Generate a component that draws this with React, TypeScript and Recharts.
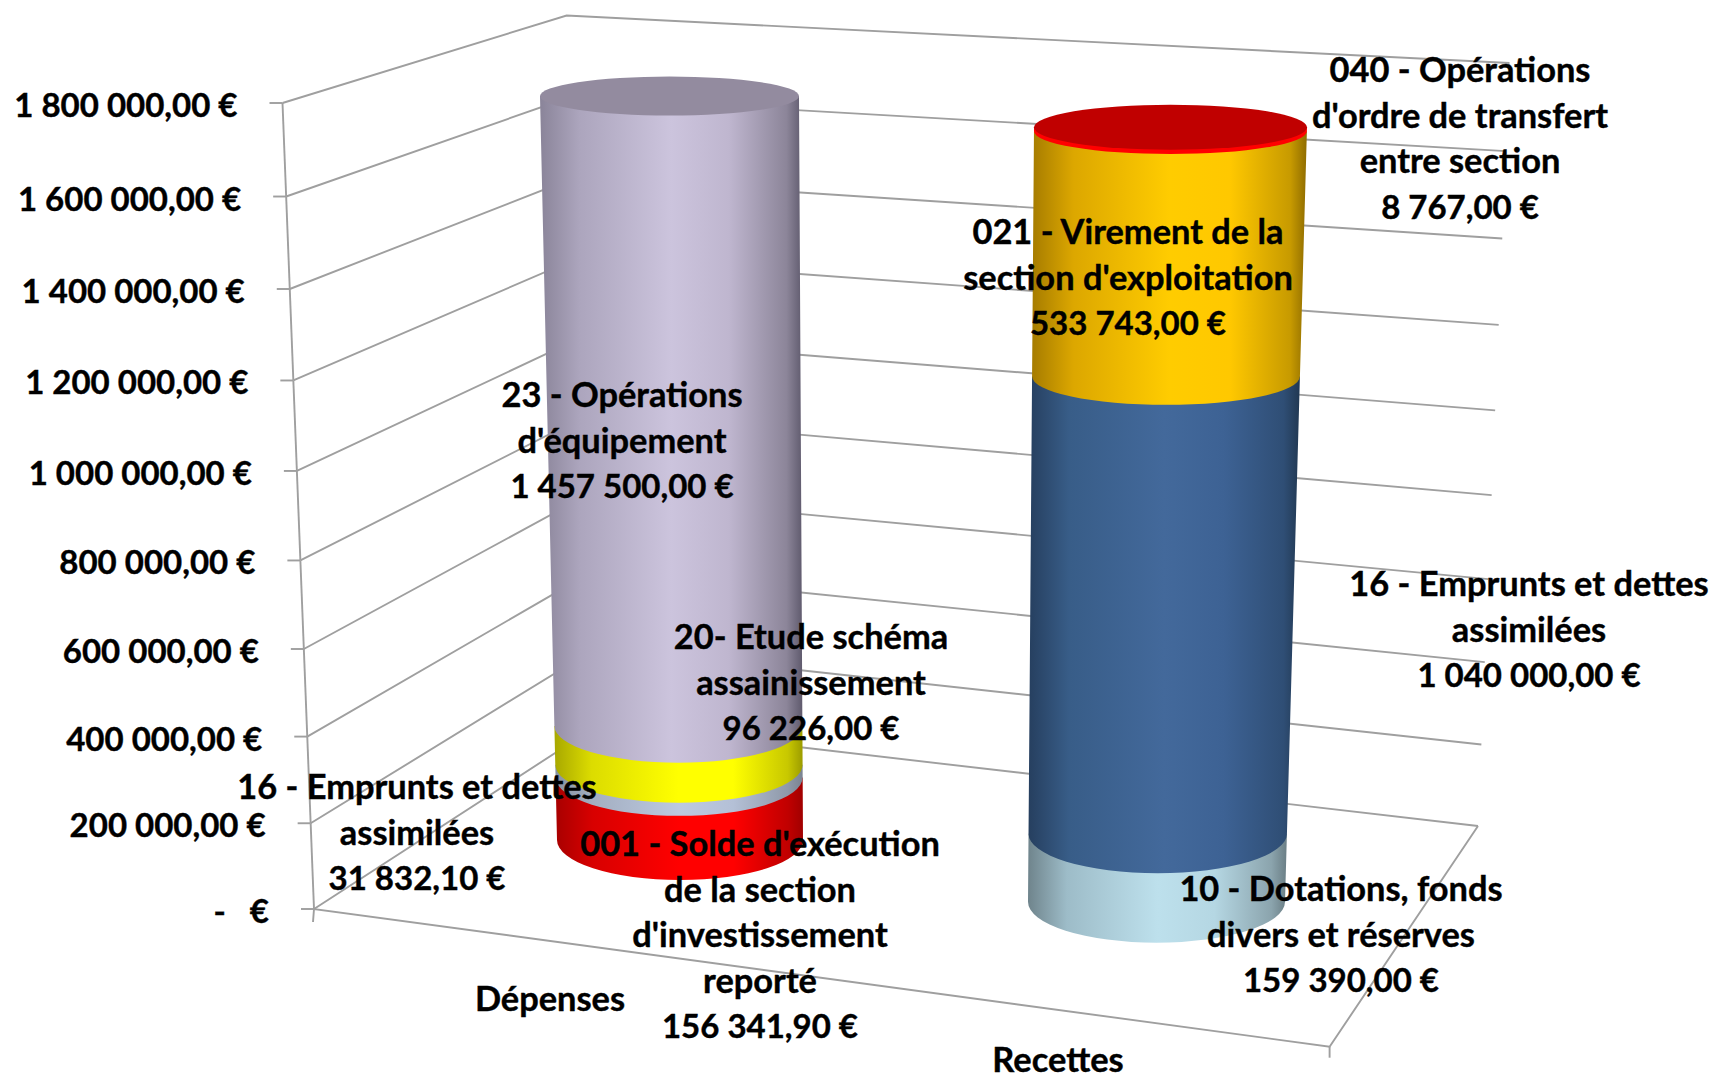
import { BarChart, Bar, XAxis, YAxis, CartesianGrid, LabelList } from 'recharts'

const categories = ['Dépenses', 'Recettes']
const yTicks = [0, 200000, 400000, 600000, 800000, 1000000, 1200000, 1400000, 1600000, 1800000]

const solde001 = [156341.9, 0]
const emprunts16Dep = [31832.1, 0]
const etude20 = [96226, 0]
const operations23 = [1457500, 0]
const dotations10 = [0, 159390]
const emprunts16Rec = [0, 1040000]
const virement021 = [0, 533743]
const ordre040 = [0, 8767]

const Y_MAX = 1800000
const FONT = 'Lato, Calibri, sans-serif'
const NAME_SIZE = 34.4
const VALUE_SIZE = 33
const LINE_STEP = 45.6
const LINE_COLOR = '#9f9f9f'
const TEXT_STYLE = { fontFamily: FONT, fontWeight: 700, fill: '#000', stroke: '#000', strokeWidth: 0.4 }

// plot box of the flat (library) scale, the 3D look is a warp on top of it
const PLOT_TOP = 100
const PLOT_H = 800
const PLOT_BOTTOM = PLOT_TOP + PLOT_H

const SERIES = [
  { key: 's001', values: solde001, cat: 0, lines: ["001 - Solde d'exécution", 'de la section', "d'investissement", 'reporté'], at: [760, 844],
    stops: ['#a80000', '#d80000', '#ff0000', '#ff0000', '#c00000', '#a00000'] },
  { key: 's16d', values: emprunts16Dep, cat: 0, lines: ['16 - Emprunts et dettes', 'assimilées'], at: [417, 787],
    stops: ['#87919f', '#a3aec0', '#bcc9e0', '#b4c0d6', '#8f99a9', '#7a8391'] },
  { key: 's20', values: etude20, cat: 0, lines: ['20- Etude schéma', 'assainissement'], at: [811, 637],
    stops: ['#a8a800', '#dcdc00', '#ffff00', '#ffff00', '#c8c800', '#9c9c00'] },
  { key: 's23', values: operations23, cat: 0, lines: ['23 - Opérations', "d'équipement"], at: [622, 395], top: '#938b9f',
    stops: ['#8a8499', '#aca5bd', '#ccc4dd', '#bfb6cf', '#8c8599', '#5f5a6d'] },
  { key: 's10', values: dotations10, cat: 1, lines: ['10 - Dotations, fonds', 'divers et réserves'], at: [1341, 889],
    stops: ['#6f848c', '#9dbcc8', '#bde0ec', '#b5d7e3', '#8ba4ad', '#6a7e85'] },
  { key: 's16r', values: emprunts16Rec, cat: 1, lines: ['16 - Emprunts et dettes', 'assimilées'], at: [1529, 584],
    stops: ['#263f5f', '#385d88', '#43699b', '#3d6294', '#2f4e75', '#213852'] },
  { key: 's021', values: virement021, cat: 1, lines: ['021 - Virement de la', "section d'exploitation"], at: [1128, 232],
    stops: ['#a67c00', '#dca700', '#ffcc00', '#ffc800', '#c79a00', '#8f6c00'] },
  { key: 's040', values: ordre040, cat: 1, lines: ['040 - Opérations', "d'ordre de transfert", 'entre section'], at: [1460, 70], top: '#c00000',
    stops: ['#ff0000', '#ff0000', '#ff0000', '#ff0000', '#ff0000', '#ff0000'] },
]

const GRAD_OFFSETS = ['0%', '15%', '50%', '72%', '94%', '100%']

const chartData = categories.map((name, i) => {
  const row: Record<string, string | number> = { name }
  SERIES.forEach(s => { row[s.key] = s.values[i] })
  return row
})

// perspective helpers
const warp = (t: number, p: number) => t / (1 + p * (1 - t))
const lerp = (a: number, b: number, k: number) => a + (b - a) * k
const toT = (y: number) => (PLOT_BOTTOM - y) / PLOT_H

type Depth = { x0: number; x1: number; y0: number; y1: number; p: number }
const at = (d: Depth, t: number) => {
  const k = warp(t, d.p)
  return { x: lerp(d.x0, d.x1, k), y: lerp(d.y0, d.y1, k) }
}

const AXIS_EDGE: Depth = { x0: 314, x1: 282.5, y0: 909, y1: 103, p: 0.05 }
const BACK_EDGE: Depth = { x0: 600, x1: 566.6, y0: 724, y1: 15.5, p: 0.04 }
const RIGHT_EDGE: Depth = { x0: 1478, x1: 1509.5, y0: 826, y1: 63, p: 0.045 }
const FRONT_CORNER = { x: 1329.6, y: 1046.7 }

const COLUMNS = [
  { y0: 880, y1: 88, p: 0.08, frontTop: 115.5, frontBot: 880, rx: [129.5, 123], ry: [19.5, 40], dx: [-0.5, 10] },
  { y0: 942.7, y1: 122, p: 0.05, frontTop: 150, frontBot: 942.7, rx: [136.5, 128.5], ry: [22.5, 41], dx: [0.5, -13.5] },
]

const ring = (col: number, t: number, cx: number) => {
  const c = COLUMNS[col]
  const front = lerp(c.y0, c.y1, warp(t, c.p))
  const k = (front - c.frontTop) / (c.frontBot - c.frontTop)
  const rx = lerp(c.rx[0], c.rx[1], k)
  const ry = lerp(c.ry[0], c.ry[1], k)
  const mid = cx + lerp(c.dx[0], c.dx[1], k)
  return { l: mid - rx, r: mid + rx, mid, rx, ry, y: front - ry }
}

const euro = (v: number) => {
  const [a, b] = v.toFixed(2).split('.')
  return `${a.replace(/\B(?=(\d{3})+$)/g, ' ')},${b} €`
}

const GridLine = (props: any) => {
  const t = toT(props.y1)
  const a = at(AXIS_EDGE, t)
  const b = at(BACK_EDGE, t)
  const c = at(RIGHT_EDGE, t)
  const isZero = t < 0.001
  const prev = at(AXIS_EDGE, Math.max(0, t - 200000 / Y_MAX))
  const common = { fill: 'none', stroke: LINE_COLOR, strokeWidth: 1.9 }
  return (
    <g key={props.key}>
      <polyline {...common} points={`${a.x},${a.y} ${b.x},${b.y} ${c.x},${c.y}`} />
      <line {...common} x1={a.x - 13} y1={a.y} x2={a.x} y2={a.y} />
      {!isZero && <line {...common} x1={prev.x} y1={prev.y} x2={a.x} y2={a.y} />}
      {isZero && (
        <polyline {...common} points={`${a.x - 1},${a.y + 13} ${a.x},${a.y} ${FRONT_CORNER.x},${FRONT_CORNER.y} ${c.x},${c.y}`} />
      )}
      {isZero && <line {...common} x1={FRONT_CORNER.x} y1={FRONT_CORNER.y} x2={FRONT_CORNER.x} y2={FRONT_CORNER.y + 11} />}
    </g>
  )
}

const YTick = ({ y, payload }: any) => {
  const a = at(AXIS_EDGE, toT(y))
  const text = payload.value === 0 ? '-   €' : euro(payload.value)
  return (
    <text x={a.x - 45} y={a.y + 14} textAnchor="end" fontSize={VALUE_SIZE} {...TEXT_STYLE} style={{ whiteSpace: 'pre' }}>
      {text}
    </text>
  )
}

const X_LABEL = [{ dx: -120, y: 1011 }, { dx: -112, y: 1072 }]

const XTick = ({ x, payload, index }: any) => (
  <text x={x + X_LABEL[index].dx} y={X_LABEL[index].y} textAnchor="middle" fontSize={NAME_SIZE} {...TEXT_STYLE}>
    {payload.value}
  </text>
)

const cylinderShape = (s: typeof SERIES[number]) => (props: any) => {
  const { x, y, width, height } = props
  if (!height || height <= 0) return <g />
  const cx = x + width / 2
  const hi = ring(s.cat, toT(y), cx)
  const lo = ring(s.cat, toT(y + height), cx)
  const d = `M${hi.l},${hi.y} L${hi.r},${hi.y} L${lo.r},${lo.y} A${lo.rx},${lo.ry} 0 0 1 ${lo.l},${lo.y} Z`
  return (
    <g>
      <path d={d} fill={`url(#grad-${s.key})`} />
      {s.top && <ellipse cx={hi.mid} cy={hi.y} rx={hi.rx} ry={hi.ry} fill={s.top} />}
    </g>
  )
}

const labelFor = (s: typeof SERIES[number]) => (props: any) => {
  if (props.index !== s.cat) return null
  const rows = [...s.lines, euro(s.values[s.cat])]
  return (
    <text textAnchor="middle" {...TEXT_STYLE}>
      {rows.map((r, i) => (
        <tspan key={i} x={s.at[0]} y={s.at[1] + 12 + i * LINE_STEP} fontSize={i === rows.length - 1 ? VALUE_SIZE : NAME_SIZE}>{r}</tspan>
      ))}
    </text>
  )
}

export default function App() {
  return (
    <div style={{ position: 'absolute', left: 0, top: 0, width: 1717, height: 1080, background: '#fff' }}>
      <BarChart
        width={1717}
        height={1080}
        data={chartData}
        barSize={250}
        margin={{ top: PLOT_TOP, right: 297, bottom: 150, left: 360 }}
      >
        <defs>
          {SERIES.map(s => (
            <linearGradient key={s.key} id={`grad-${s.key}`} x1="0" y1="0" x2="1" y2="0">
              {s.stops.map((c, i) => <stop key={i} offset={GRAD_OFFSETS[i]} stopColor={c} />)}
            </linearGradient>
          ))}
        </defs>
        <CartesianGrid vertical={false} horizontal={GridLine} />
        <XAxis dataKey="name" height={30} axisLine={false} tickLine={false} tick={XTick} interval={0} />
        <YAxis width={60} domain={[0, Y_MAX]} ticks={yTicks} interval={0} axisLine={false} tickLine={false} tick={YTick} />
        {SERIES.map(s => (
          <Bar key={s.key} dataKey={s.key} stackId="a" isAnimationActive={false} shape={cylinderShape(s)}>
            <LabelList content={labelFor(s)} />
          </Bar>
        ))}
      </BarChart>
    </div>
  )
}
